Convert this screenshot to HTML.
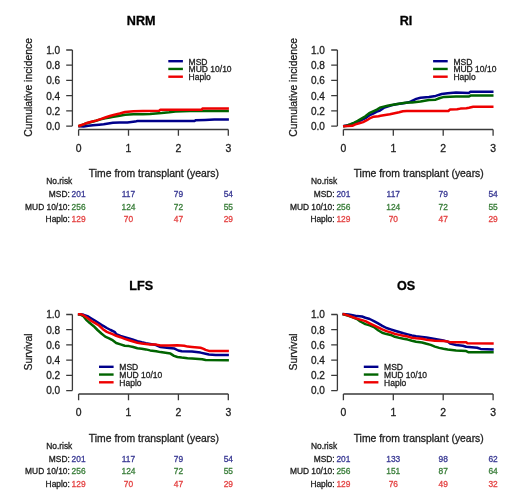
<!DOCTYPE html>
<html><head><meta charset="utf-8"><style>
html,body{margin:0;padding:0;background:#fff;}
svg{display:block;font-family:"Liberation Sans",sans-serif;}
text{stroke-width:0.3px;}
svg{filter:blur(0.3px);}
</style></head><body>
<svg width="520" height="504" viewBox="0 0 520 504">
<rect width="520" height="504" fill="#fff"/>
<g transform="translate(0,0)">
<text x="141.2" y="25.1" font-size="12.6" font-weight="bold" text-anchor="middle" fill="#000" stroke="#000">NRM</text>
<path d="M72.4 50.00V126.10M66.20 126.10H72.4M66.20 110.88H72.4M66.20 95.66H72.4M66.20 80.44H72.4M66.20 65.22H72.4M66.20 50.00H72.4" stroke="#3a3a3a" stroke-width="1.3" fill="none"/>
<text x="60.1" y="129.95" font-size="10.05" text-anchor="end" fill="#1e1e1e" stroke="#1e1e1e">0.0</text>
<text x="60.1" y="114.73" font-size="10.05" text-anchor="end" fill="#1e1e1e" stroke="#1e1e1e">0.2</text>
<text x="60.1" y="99.51" font-size="10.05" text-anchor="end" fill="#1e1e1e" stroke="#1e1e1e">0.4</text>
<text x="60.1" y="84.29" font-size="10.05" text-anchor="end" fill="#1e1e1e" stroke="#1e1e1e">0.6</text>
<text x="60.1" y="69.07" font-size="10.05" text-anchor="end" fill="#1e1e1e" stroke="#1e1e1e">0.8</text>
<text x="60.1" y="53.85" font-size="10.05" text-anchor="end" fill="#1e1e1e" stroke="#1e1e1e">1.0</text>
<path d="M78.60 129.5H228.30M78.60 129.5V135.8M128.50 129.5V135.8M178.40 129.5V135.8M228.30 129.5V135.8" stroke="#3a3a3a" stroke-width="1.3" fill="none"/>
<text x="78.60" y="151.8" font-size="10.4" text-anchor="middle" fill="#1e1e1e" stroke="#1e1e1e">0</text>
<text x="128.50" y="151.8" font-size="10.4" text-anchor="middle" fill="#1e1e1e" stroke="#1e1e1e">1</text>
<text x="178.40" y="151.8" font-size="10.4" text-anchor="middle" fill="#1e1e1e" stroke="#1e1e1e">2</text>
<text x="228.30" y="151.8" font-size="10.4" text-anchor="middle" fill="#1e1e1e" stroke="#1e1e1e">3</text>
<text x="153.9" y="177.4" font-size="10.4" text-anchor="middle" fill="#1e1e1e" stroke="#1e1e1e">Time from transplant (years)</text>
<text transform="translate(32.4 87.4) rotate(-90)" font-size="10.4" text-anchor="middle" fill="#1e1e1e" stroke="#1e1e1e">Cumulative incidence</text>
<text x="72.3" y="184.2" font-size="8.4" text-anchor="end" fill="#1e1e1e" stroke="#1e1e1e">No.risk</text>
<text x="69.8" y="197.0" font-size="8.4" text-anchor="end" fill="#1e1e1e" stroke="#1e1e1e">MSD:</text>
<text x="78.60" y="197.0" font-size="8.4" text-anchor="middle" fill="#3a3a94" stroke="#3a3a94">201</text>
<text x="128.50" y="197.0" font-size="8.4" text-anchor="middle" fill="#3a3a94" stroke="#3a3a94">117</text>
<text x="178.40" y="197.0" font-size="8.4" text-anchor="middle" fill="#3a3a94" stroke="#3a3a94">79</text>
<text x="228.30" y="197.0" font-size="8.4" text-anchor="middle" fill="#3a3a94" stroke="#3a3a94">54</text>
<text x="69.8" y="209.5" font-size="8.4" text-anchor="end" fill="#1e1e1e" stroke="#1e1e1e">MUD 10/10:</text>
<text x="78.60" y="209.5" font-size="8.4" text-anchor="middle" fill="#3a7e3a" stroke="#3a7e3a">256</text>
<text x="128.50" y="209.5" font-size="8.4" text-anchor="middle" fill="#3a7e3a" stroke="#3a7e3a">124</text>
<text x="178.40" y="209.5" font-size="8.4" text-anchor="middle" fill="#3a7e3a" stroke="#3a7e3a">72</text>
<text x="228.30" y="209.5" font-size="8.4" text-anchor="middle" fill="#3a7e3a" stroke="#3a7e3a">55</text>
<text x="69.8" y="222.0" font-size="8.4" text-anchor="end" fill="#1e1e1e" stroke="#1e1e1e">Haplo:</text>
<text x="78.60" y="222.0" font-size="8.4" text-anchor="middle" fill="#e44444" stroke="#e44444">129</text>
<text x="128.50" y="222.0" font-size="8.4" text-anchor="middle" fill="#e44444" stroke="#e44444">70</text>
<text x="178.40" y="222.0" font-size="8.4" text-anchor="middle" fill="#e44444" stroke="#e44444">47</text>
<text x="228.30" y="222.0" font-size="8.4" text-anchor="middle" fill="#e44444" stroke="#e44444">29</text>
<path d="M168.30 61.20h14.6" stroke="#00008b" stroke-width="2.4"/>
<text x="188.60" y="64.60" font-size="8.5" fill="#1e1e1e" stroke="#1e1e1e">MSD</text>
<path d="M168.30 68.95h14.6" stroke="#006400" stroke-width="2.4"/>
<text x="188.60" y="72.35" font-size="8.5" fill="#1e1e1e" stroke="#1e1e1e">MUD 10/10</text>
<path d="M168.30 76.70h14.6" stroke="#ee0000" stroke-width="2.4"/>
<text x="188.60" y="80.10" font-size="8.5" fill="#1e1e1e" stroke="#1e1e1e">Haplo</text>
</g>
<g transform="translate(264.8,0)">
<text x="141.2" y="25.1" font-size="12.6" font-weight="bold" text-anchor="middle" fill="#000" stroke="#000">RI</text>
<path d="M72.6 50.00V126.10M66.40 126.10H72.6M66.40 110.88H72.6M66.40 95.66H72.6M66.40 80.44H72.6M66.40 65.22H72.6M66.40 50.00H72.6" stroke="#3a3a3a" stroke-width="1.3" fill="none"/>
<text x="60.1" y="129.95" font-size="10.05" text-anchor="end" fill="#1e1e1e" stroke="#1e1e1e">0.0</text>
<text x="60.1" y="114.73" font-size="10.05" text-anchor="end" fill="#1e1e1e" stroke="#1e1e1e">0.2</text>
<text x="60.1" y="99.51" font-size="10.05" text-anchor="end" fill="#1e1e1e" stroke="#1e1e1e">0.4</text>
<text x="60.1" y="84.29" font-size="10.05" text-anchor="end" fill="#1e1e1e" stroke="#1e1e1e">0.6</text>
<text x="60.1" y="69.07" font-size="10.05" text-anchor="end" fill="#1e1e1e" stroke="#1e1e1e">0.8</text>
<text x="60.1" y="53.85" font-size="10.05" text-anchor="end" fill="#1e1e1e" stroke="#1e1e1e">1.0</text>
<path d="M78.60 129.5H228.30M78.60 129.5V135.8M128.50 129.5V135.8M178.40 129.5V135.8M228.30 129.5V135.8" stroke="#3a3a3a" stroke-width="1.3" fill="none"/>
<text x="78.60" y="151.8" font-size="10.4" text-anchor="middle" fill="#1e1e1e" stroke="#1e1e1e">0</text>
<text x="128.50" y="151.8" font-size="10.4" text-anchor="middle" fill="#1e1e1e" stroke="#1e1e1e">1</text>
<text x="178.40" y="151.8" font-size="10.4" text-anchor="middle" fill="#1e1e1e" stroke="#1e1e1e">2</text>
<text x="228.30" y="151.8" font-size="10.4" text-anchor="middle" fill="#1e1e1e" stroke="#1e1e1e">3</text>
<text x="153.9" y="177.4" font-size="10.4" text-anchor="middle" fill="#1e1e1e" stroke="#1e1e1e">Time from transplant (years)</text>
<text transform="translate(32.4 87.4) rotate(-90)" font-size="10.4" text-anchor="middle" fill="#1e1e1e" stroke="#1e1e1e">Cumulative incidence</text>
<text x="72.3" y="184.2" font-size="8.4" text-anchor="end" fill="#1e1e1e" stroke="#1e1e1e">No.risk</text>
<text x="69.8" y="197.0" font-size="8.4" text-anchor="end" fill="#1e1e1e" stroke="#1e1e1e">MSD:</text>
<text x="78.60" y="197.0" font-size="8.4" text-anchor="middle" fill="#3a3a94" stroke="#3a3a94">201</text>
<text x="128.50" y="197.0" font-size="8.4" text-anchor="middle" fill="#3a3a94" stroke="#3a3a94">117</text>
<text x="178.40" y="197.0" font-size="8.4" text-anchor="middle" fill="#3a3a94" stroke="#3a3a94">79</text>
<text x="228.30" y="197.0" font-size="8.4" text-anchor="middle" fill="#3a3a94" stroke="#3a3a94">54</text>
<text x="69.8" y="209.5" font-size="8.4" text-anchor="end" fill="#1e1e1e" stroke="#1e1e1e">MUD 10/10:</text>
<text x="78.60" y="209.5" font-size="8.4" text-anchor="middle" fill="#3a7e3a" stroke="#3a7e3a">256</text>
<text x="128.50" y="209.5" font-size="8.4" text-anchor="middle" fill="#3a7e3a" stroke="#3a7e3a">124</text>
<text x="178.40" y="209.5" font-size="8.4" text-anchor="middle" fill="#3a7e3a" stroke="#3a7e3a">72</text>
<text x="228.30" y="209.5" font-size="8.4" text-anchor="middle" fill="#3a7e3a" stroke="#3a7e3a">55</text>
<text x="69.8" y="222.0" font-size="8.4" text-anchor="end" fill="#1e1e1e" stroke="#1e1e1e">Haplo:</text>
<text x="78.60" y="222.0" font-size="8.4" text-anchor="middle" fill="#e44444" stroke="#e44444">129</text>
<text x="128.50" y="222.0" font-size="8.4" text-anchor="middle" fill="#e44444" stroke="#e44444">70</text>
<text x="178.40" y="222.0" font-size="8.4" text-anchor="middle" fill="#e44444" stroke="#e44444">47</text>
<text x="228.30" y="222.0" font-size="8.4" text-anchor="middle" fill="#e44444" stroke="#e44444">29</text>
<path d="M168.30 61.20h14.6" stroke="#00008b" stroke-width="2.4"/>
<text x="188.60" y="64.60" font-size="8.5" fill="#1e1e1e" stroke="#1e1e1e">MSD</text>
<path d="M168.30 68.95h14.6" stroke="#006400" stroke-width="2.4"/>
<text x="188.60" y="72.35" font-size="8.5" fill="#1e1e1e" stroke="#1e1e1e">MUD 10/10</text>
<path d="M168.30 76.70h14.6" stroke="#ee0000" stroke-width="2.4"/>
<text x="188.60" y="80.10" font-size="8.5" fill="#1e1e1e" stroke="#1e1e1e">Haplo</text>
</g>
<g transform="translate(0,264.5)">
<text x="141.2" y="25.1" font-size="12.6" font-weight="bold" text-anchor="middle" fill="#000" stroke="#000">LFS</text>
<path d="M72.4 50.00V126.10M66.20 126.10H72.4M66.20 110.88H72.4M66.20 95.66H72.4M66.20 80.44H72.4M66.20 65.22H72.4M66.20 50.00H72.4" stroke="#3a3a3a" stroke-width="1.3" fill="none"/>
<text x="60.1" y="129.95" font-size="10.05" text-anchor="end" fill="#1e1e1e" stroke="#1e1e1e">0.0</text>
<text x="60.1" y="114.73" font-size="10.05" text-anchor="end" fill="#1e1e1e" stroke="#1e1e1e">0.2</text>
<text x="60.1" y="99.51" font-size="10.05" text-anchor="end" fill="#1e1e1e" stroke="#1e1e1e">0.4</text>
<text x="60.1" y="84.29" font-size="10.05" text-anchor="end" fill="#1e1e1e" stroke="#1e1e1e">0.6</text>
<text x="60.1" y="69.07" font-size="10.05" text-anchor="end" fill="#1e1e1e" stroke="#1e1e1e">0.8</text>
<text x="60.1" y="53.85" font-size="10.05" text-anchor="end" fill="#1e1e1e" stroke="#1e1e1e">1.0</text>
<path d="M78.60 129.5H228.30M78.60 129.5V135.8M128.50 129.5V135.8M178.40 129.5V135.8M228.30 129.5V135.8" stroke="#3a3a3a" stroke-width="1.3" fill="none"/>
<text x="78.60" y="151.8" font-size="10.4" text-anchor="middle" fill="#1e1e1e" stroke="#1e1e1e">0</text>
<text x="128.50" y="151.8" font-size="10.4" text-anchor="middle" fill="#1e1e1e" stroke="#1e1e1e">1</text>
<text x="178.40" y="151.8" font-size="10.4" text-anchor="middle" fill="#1e1e1e" stroke="#1e1e1e">2</text>
<text x="228.30" y="151.8" font-size="10.4" text-anchor="middle" fill="#1e1e1e" stroke="#1e1e1e">3</text>
<text x="153.9" y="177.4" font-size="10.4" text-anchor="middle" fill="#1e1e1e" stroke="#1e1e1e">Time from transplant (years)</text>
<text transform="translate(32.4 87.4) rotate(-90)" font-size="10.4" text-anchor="middle" fill="#1e1e1e" stroke="#1e1e1e">Survival</text>
<text x="72.3" y="184.2" font-size="8.4" text-anchor="end" fill="#1e1e1e" stroke="#1e1e1e">No.risk</text>
<text x="69.8" y="197.0" font-size="8.4" text-anchor="end" fill="#1e1e1e" stroke="#1e1e1e">MSD:</text>
<text x="78.60" y="197.0" font-size="8.4" text-anchor="middle" fill="#3a3a94" stroke="#3a3a94">201</text>
<text x="128.50" y="197.0" font-size="8.4" text-anchor="middle" fill="#3a3a94" stroke="#3a3a94">117</text>
<text x="178.40" y="197.0" font-size="8.4" text-anchor="middle" fill="#3a3a94" stroke="#3a3a94">79</text>
<text x="228.30" y="197.0" font-size="8.4" text-anchor="middle" fill="#3a3a94" stroke="#3a3a94">54</text>
<text x="69.8" y="209.5" font-size="8.4" text-anchor="end" fill="#1e1e1e" stroke="#1e1e1e">MUD 10/10:</text>
<text x="78.60" y="209.5" font-size="8.4" text-anchor="middle" fill="#3a7e3a" stroke="#3a7e3a">256</text>
<text x="128.50" y="209.5" font-size="8.4" text-anchor="middle" fill="#3a7e3a" stroke="#3a7e3a">124</text>
<text x="178.40" y="209.5" font-size="8.4" text-anchor="middle" fill="#3a7e3a" stroke="#3a7e3a">72</text>
<text x="228.30" y="209.5" font-size="8.4" text-anchor="middle" fill="#3a7e3a" stroke="#3a7e3a">55</text>
<text x="69.8" y="222.0" font-size="8.4" text-anchor="end" fill="#1e1e1e" stroke="#1e1e1e">Haplo:</text>
<text x="78.60" y="222.0" font-size="8.4" text-anchor="middle" fill="#e44444" stroke="#e44444">129</text>
<text x="128.50" y="222.0" font-size="8.4" text-anchor="middle" fill="#e44444" stroke="#e44444">70</text>
<text x="178.40" y="222.0" font-size="8.4" text-anchor="middle" fill="#e44444" stroke="#e44444">47</text>
<text x="228.30" y="222.0" font-size="8.4" text-anchor="middle" fill="#e44444" stroke="#e44444">29</text>
<path d="M99.00 102.30h14.6" stroke="#00008b" stroke-width="2.4"/>
<text x="119.30" y="105.70" font-size="8.5" fill="#1e1e1e" stroke="#1e1e1e">MSD</text>
<path d="M99.00 110.05h14.6" stroke="#006400" stroke-width="2.4"/>
<text x="119.30" y="113.45" font-size="8.5" fill="#1e1e1e" stroke="#1e1e1e">MUD 10/10</text>
<path d="M99.00 117.80h14.6" stroke="#ee0000" stroke-width="2.4"/>
<text x="119.30" y="121.20" font-size="8.5" fill="#1e1e1e" stroke="#1e1e1e">Haplo</text>
</g>
<g transform="translate(264.8,264.5)">
<text x="141.2" y="25.1" font-size="12.6" font-weight="bold" text-anchor="middle" fill="#000" stroke="#000">OS</text>
<path d="M72.6 50.00V126.10M66.40 126.10H72.6M66.40 110.88H72.6M66.40 95.66H72.6M66.40 80.44H72.6M66.40 65.22H72.6M66.40 50.00H72.6" stroke="#3a3a3a" stroke-width="1.3" fill="none"/>
<text x="60.1" y="129.95" font-size="10.05" text-anchor="end" fill="#1e1e1e" stroke="#1e1e1e">0.0</text>
<text x="60.1" y="114.73" font-size="10.05" text-anchor="end" fill="#1e1e1e" stroke="#1e1e1e">0.2</text>
<text x="60.1" y="99.51" font-size="10.05" text-anchor="end" fill="#1e1e1e" stroke="#1e1e1e">0.4</text>
<text x="60.1" y="84.29" font-size="10.05" text-anchor="end" fill="#1e1e1e" stroke="#1e1e1e">0.6</text>
<text x="60.1" y="69.07" font-size="10.05" text-anchor="end" fill="#1e1e1e" stroke="#1e1e1e">0.8</text>
<text x="60.1" y="53.85" font-size="10.05" text-anchor="end" fill="#1e1e1e" stroke="#1e1e1e">1.0</text>
<path d="M78.60 129.5H228.30M78.60 129.5V135.8M128.50 129.5V135.8M178.40 129.5V135.8M228.30 129.5V135.8" stroke="#3a3a3a" stroke-width="1.3" fill="none"/>
<text x="78.60" y="151.8" font-size="10.4" text-anchor="middle" fill="#1e1e1e" stroke="#1e1e1e">0</text>
<text x="128.50" y="151.8" font-size="10.4" text-anchor="middle" fill="#1e1e1e" stroke="#1e1e1e">1</text>
<text x="178.40" y="151.8" font-size="10.4" text-anchor="middle" fill="#1e1e1e" stroke="#1e1e1e">2</text>
<text x="228.30" y="151.8" font-size="10.4" text-anchor="middle" fill="#1e1e1e" stroke="#1e1e1e">3</text>
<text x="153.9" y="177.4" font-size="10.4" text-anchor="middle" fill="#1e1e1e" stroke="#1e1e1e">Time from transplant (years)</text>
<text transform="translate(32.4 87.4) rotate(-90)" font-size="10.4" text-anchor="middle" fill="#1e1e1e" stroke="#1e1e1e">Survival</text>
<text x="72.3" y="184.2" font-size="8.4" text-anchor="end" fill="#1e1e1e" stroke="#1e1e1e">No.risk</text>
<text x="69.8" y="197.0" font-size="8.4" text-anchor="end" fill="#1e1e1e" stroke="#1e1e1e">MSD:</text>
<text x="78.60" y="197.0" font-size="8.4" text-anchor="middle" fill="#3a3a94" stroke="#3a3a94">201</text>
<text x="128.50" y="197.0" font-size="8.4" text-anchor="middle" fill="#3a3a94" stroke="#3a3a94">133</text>
<text x="178.40" y="197.0" font-size="8.4" text-anchor="middle" fill="#3a3a94" stroke="#3a3a94">98</text>
<text x="228.30" y="197.0" font-size="8.4" text-anchor="middle" fill="#3a3a94" stroke="#3a3a94">62</text>
<text x="69.8" y="209.5" font-size="8.4" text-anchor="end" fill="#1e1e1e" stroke="#1e1e1e">MUD 10/10:</text>
<text x="78.60" y="209.5" font-size="8.4" text-anchor="middle" fill="#3a7e3a" stroke="#3a7e3a">256</text>
<text x="128.50" y="209.5" font-size="8.4" text-anchor="middle" fill="#3a7e3a" stroke="#3a7e3a">151</text>
<text x="178.40" y="209.5" font-size="8.4" text-anchor="middle" fill="#3a7e3a" stroke="#3a7e3a">87</text>
<text x="228.30" y="209.5" font-size="8.4" text-anchor="middle" fill="#3a7e3a" stroke="#3a7e3a">64</text>
<text x="69.8" y="222.0" font-size="8.4" text-anchor="end" fill="#1e1e1e" stroke="#1e1e1e">Haplo:</text>
<text x="78.60" y="222.0" font-size="8.4" text-anchor="middle" fill="#e44444" stroke="#e44444">129</text>
<text x="128.50" y="222.0" font-size="8.4" text-anchor="middle" fill="#e44444" stroke="#e44444">76</text>
<text x="178.40" y="222.0" font-size="8.4" text-anchor="middle" fill="#e44444" stroke="#e44444">49</text>
<text x="228.30" y="222.0" font-size="8.4" text-anchor="middle" fill="#e44444" stroke="#e44444">32</text>
<path d="M99.00 102.30h14.6" stroke="#00008b" stroke-width="2.4"/>
<text x="119.30" y="105.70" font-size="8.5" fill="#1e1e1e" stroke="#1e1e1e">MSD</text>
<path d="M99.00 110.05h14.6" stroke="#006400" stroke-width="2.4"/>
<text x="119.30" y="113.45" font-size="8.5" fill="#1e1e1e" stroke="#1e1e1e">MUD 10/10</text>
<path d="M99.00 117.80h14.6" stroke="#ee0000" stroke-width="2.4"/>
<text x="119.30" y="121.20" font-size="8.5" fill="#1e1e1e" stroke="#1e1e1e">Haplo</text>
</g>
<path d="M78.3 126.3 L83.7 126.5 L88.3 125.8 L92.9 125.2 L99.1 124.7 L103.7 124.3 L108.3 123.5 L112.9 122.8 L119.7 122.6 L127.4 122.4 L135.1 121.6 L137.4 121.0 L194.8 121.0 L195.4 120.3 L205.0 119.9 L214.3 119.4 L228.9 119.5" stroke="#00008b" stroke-width="2.5" fill="none" stroke-linejoin="round" stroke-linecap="butt"/>
<path d="M78.3 126.2 L82.2 124.9 L86.0 123.5 L91.4 122.0 L96.0 120.8 L100.6 119.4 L105.2 118.2 L109.8 117.4 L112.0 117.0 L119.7 115.7 L125.1 114.7 L133.5 114.2 L142.8 114.2 L150.0 113.9 L161.5 113.1 L169.2 112.3 L175.4 111.5 L190.0 111.1 L228.9 110.9" stroke="#006400" stroke-width="2.5" fill="none" stroke-linejoin="round" stroke-linecap="butt"/>
<path d="M78.3 126.2 L82.2 124.8 L86.0 123.3 L91.4 121.8 L96.0 120.6 L100.6 119.1 L105.2 117.5 L109.8 116.0 L114.5 114.8 L119.7 113.5 L125.1 112.0 L133.5 111.2 L142.8 111.1 L159.2 110.7 L160.4 109.7 L201.6 109.8 L202.4 108.6 L228.9 108.6" stroke="#ee0000" stroke-width="2.5" fill="none" stroke-linejoin="round" stroke-linecap="butt"/>
<path d="M343.1 126.3 L350.0 124.6 L357.7 121.8 L365.4 118.2 L369.2 115.5 L373.1 113.6 L376.9 111.7 L380.0 110.5 L383.7 107.9 L391.4 105.4 L396.0 104.3 L405.2 102.9 L409.8 102.1 L412.0 100.8 L416.2 98.9 L420.5 97.8 L429.0 97.1 L435.7 95.9 L441.7 94.0 L447.6 93.2 L456.0 92.6 L469.0 92.9 L470.2 91.8 L493.5 91.8" stroke="#00008b" stroke-width="2.5" fill="none" stroke-linejoin="round" stroke-linecap="butt"/>
<path d="M343.1 126.3 L347.0 125.7 L350.0 124.5 L353.8 122.8 L357.7 120.9 L361.5 118.6 L365.4 116.3 L369.2 113.2 L373.1 111.3 L376.9 109.6 L379.8 107.8 L383.7 106.6 L387.5 105.8 L391.4 105.1 L396.0 104.2 L400.6 103.4 L405.2 102.8 L409.8 102.4 L412.0 102.4 L420.5 101.4 L429.0 100.1 L435.7 99.7 L440.0 98.0 L444.2 96.9 L456.0 96.5 L469.0 96.5 L470.5 95.6 L493.5 95.6" stroke="#006400" stroke-width="2.5" fill="none" stroke-linejoin="round" stroke-linecap="butt"/>
<path d="M343.1 126.3 L347.7 126.0 L352.3 125.8 L355.4 124.4 L359.2 123.2 L363.1 122.1 L366.9 120.2 L370.8 117.8 L373.8 116.7 L378.5 116.3 L380.6 115.8 L385.2 115.1 L389.8 114.3 L394.5 113.2 L399.1 112.2 L402.9 111.2 L406.8 110.9 L448.4 111.0 L450.1 109.4 L457.1 109.3 L460.5 108.6 L466.4 108.2 L469.0 107.7 L473.2 106.7 L493.5 106.7" stroke="#ee0000" stroke-width="2.5" fill="none" stroke-linejoin="round" stroke-linecap="butt"/>
<path d="M77.9 314.2 L80.6 314.2 L83.7 314.8 L87.5 316.2 L91.4 318.5 L95.2 320.8 L99.1 323.2 L102.9 325.7 L106.8 328.0 L110.6 330.0 L114.5 331.8 L116.2 334.1 L120.5 336.0 L124.7 337.2 L129.0 338.5 L133.2 339.8 L137.4 341.1 L141.7 342.3 L145.9 343.2 L150.1 344.0 L156.0 345.0 L160.5 347.0 L169.0 347.9 L174.5 348.6 L178.3 350.5 L181.7 351.3 L192.0 351.6 L200.5 352.6 L205.6 353.7 L208.9 354.5 L215.7 354.9 L228.9 355.1" stroke="#00008b" stroke-width="2.5" fill="none" stroke-linejoin="round" stroke-linecap="butt"/>
<path d="M77.9 314.2 L80.6 314.6 L83.7 316.4 L86.0 319.6 L89.8 323.1 L93.7 326.2 L97.5 330.0 L101.4 333.5 L105.2 336.6 L109.1 338.3 L112.0 339.8 L116.2 343.0 L120.5 344.4 L124.7 345.7 L129.0 346.1 L133.2 347.0 L137.4 348.3 L141.7 348.7 L145.9 349.4 L150.1 350.4 L156.2 351.2 L160.5 352.1 L170.5 353.6 L174.0 355.9 L177.4 357.0 L181.7 357.6 L187.6 358.2 L192.0 358.4 L202.2 359.2 L205.6 360.0 L228.9 360.2" stroke="#006400" stroke-width="2.5" fill="none" stroke-linejoin="round" stroke-linecap="butt"/>
<path d="M77.9 314.2 L80.6 314.2 L83.7 315.4 L87.5 318.1 L91.4 321.0 L95.2 323.2 L99.1 325.5 L102.9 329.2 L106.8 331.9 L110.6 333.3 L112.0 333.9 L116.2 335.8 L120.5 337.2 L124.7 338.9 L129.0 340.2 L133.2 341.5 L137.4 342.7 L141.7 343.4 L145.9 344.0 L150.1 344.6 L156.2 344.6 L160.5 345.5 L169.0 345.5 L177.4 345.3 L184.2 345.7 L187.6 346.6 L192.0 346.9 L200.5 347.7 L203.0 348.6 L205.6 349.9 L208.9 350.9 L228.9 351.1" stroke="#ee0000" stroke-width="2.5" fill="none" stroke-linejoin="round" stroke-linecap="butt"/>
<path d="M342.5 314.1 L348.5 314.4 L352.7 315.2 L357.0 316.1 L362.0 316.5 L365.4 317.7 L369.7 319.0 L373.9 321.1 L378.1 323.4 L382.3 325.8 L386.5 328.0 L390.7 329.4 L394.9 330.7 L399.2 332.0 L403.4 333.3 L407.7 334.4 L411.9 335.4 L416.1 336.2 L422.0 336.9 L426.5 337.6 L430.7 338.2 L434.9 339.0 L443.4 340.5 L447.7 341.6 L450.2 343.6 L456.1 345.0 L462.8 345.7 L466.2 346.8 L477.2 347.7 L480.6 348.9 L493.7 349.4" stroke="#00008b" stroke-width="2.5" fill="none" stroke-linejoin="round" stroke-linecap="butt"/>
<path d="M342.5 314.1 L345.1 314.7 L348.5 315.8 L352.7 317.4 L357.0 319.1 L360.3 321.5 L365.4 324.1 L369.7 325.4 L373.9 327.1 L378.1 330.2 L382.2 332.7 L386.5 334.1 L390.7 334.9 L394.9 336.8 L399.2 337.9 L403.4 338.8 L407.7 339.6 L411.9 340.7 L416.1 341.7 L422.0 342.5 L426.5 343.7 L430.7 344.9 L434.9 346.6 L439.2 347.9 L443.4 348.8 L447.7 349.6 L456.1 350.5 L466.2 351.1 L468.7 352.3 L493.7 352.3" stroke="#006400" stroke-width="2.5" fill="none" stroke-linejoin="round" stroke-linecap="butt"/>
<path d="M342.5 314.1 L345.1 314.6 L348.5 315.6 L352.7 317.2 L357.0 318.6 L361.2 319.9 L365.4 321.1 L369.7 323.3 L373.9 325.4 L378.1 327.4 L382.2 329.4 L386.5 331.1 L390.7 332.4 L394.9 333.9 L399.2 334.9 L403.4 335.8 L407.7 336.6 L411.9 337.7 L416.1 338.3 L422.0 338.8 L426.5 339.7 L434.9 340.7 L443.4 341.1 L447.7 341.6 L450.2 342.3 L466.2 342.3 L467.4 343.2 L493.7 343.4" stroke="#ee0000" stroke-width="2.5" fill="none" stroke-linejoin="round" stroke-linecap="butt"/>
</svg>
</body></html>
